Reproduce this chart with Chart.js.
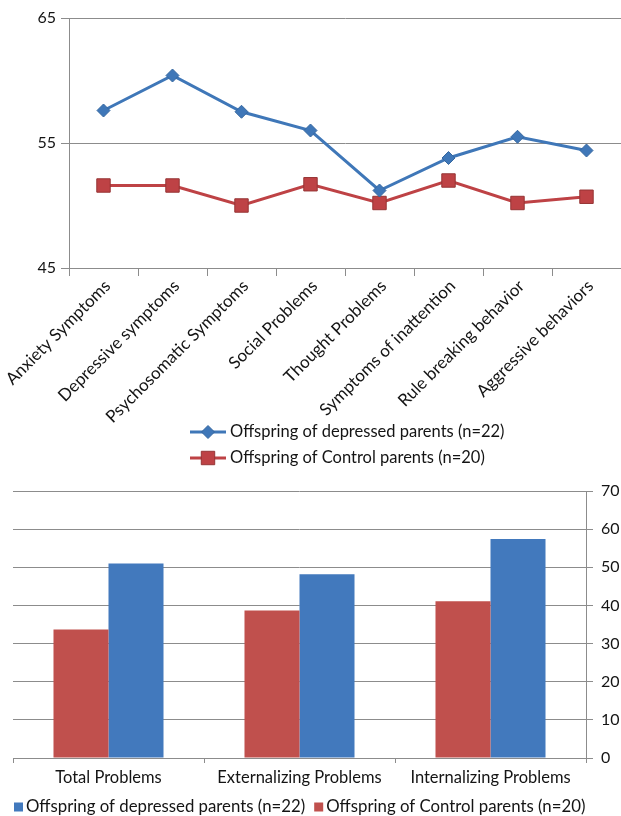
<!DOCTYPE html>
<html>
<head>
<meta charset="utf-8">
<script src="https://cdn.jsdelivr.net/npm/chart.js@4.4.1/dist/chart.umd.min.js"></script>
<style>
  html, body { margin: 0; padding: 0; background: #fff; }
  .panel { position: absolute; left: 0; width: 621px; }
  #topPanel { top: 0; height: 480px; }
  #bottomPanel { top: 480px; height: 336px; }
</style>
</head>
<body>
<div class="panel" id="topPanel"><canvas id="scaleChart"></canvas></div>
<div class="panel" id="bottomPanel"><canvas id="totalChart"></canvas></div>
<script>
// CBCL syndrome scales (T scores)
const scaleLabels = ['Anxiety Symptoms', 'Depressive symptoms', 'Psychosomatic Symptoms', 'Social Problems',
    'Thought Problems', 'Symptoms of inattention', 'Rule breaking behavior', 'Aggressive behaviors'];
const depressedScores = [57.6, 60.4, 57.5, 56.0, 51.2, 53.8, 55.5, 54.4];
const controlScores = [51.6, 51.6, 50.0, 51.7, 50.2, 52.0, 50.2, 50.7];
const scaleTicks = [45, 55, 65];

// broad-band problem scores
const problemLabels = ['Total Problems', 'Externalizing Problems', 'Internalizing Problems'];
const depressedTotals = [51.0, 48.2, 57.4];
const controlTotals = [33.7, 38.7, 41.1];
const totalTicks = [0, 10, 20, 30, 40, 50, 60, 70];

const seriesNames = ['Offspring of depressed parents (n=22)', 'Offspring of Control parents (n=20)'];

const BLUE = '#3f77b8';
const RED = '#be4245';
const GRID = '#8c8c8c';
const TEXT = '#141414';
const FONT = 'Lato, "Open Sans", sans-serif';

// legend drawn as stacked rows: line sample with its marker, then the label
const lineKey = {
    id: 'lineKey',
    afterDraw(chart, args, opts) {
        const ctx = chart.ctx;
        ctx.save();
        ctx.font = opts.font;
        ctx.textBaseline = 'middle';
        chart.data.datasets.forEach((ds, i) => {
            const y = opts.top + i * opts.rowGap;
            ctx.strokeStyle = ds.borderColor;
            ctx.lineWidth = ds.borderWidth;
            ctx.beginPath();
            ctx.moveTo(opts.left, y);
            ctx.lineTo(opts.left + opts.lineLength, y);
            ctx.stroke();

            ctx.fillStyle = ds.pointBackgroundColor;
            ctx.strokeStyle = ds.pointBorderColor;
            ctx.lineWidth = ds.pointBorderWidth;
            Chart.helpers.drawPoint(ctx, {
                pointStyle: ds.pointStyle,
                radius: ds.pointRadius,
                borderWidth: ds.pointBorderWidth,
                rotation: 0
            }, opts.left + opts.lineLength / 2, y);

            ctx.fillStyle = opts.color;
            ctx.fillText(ds.label, opts.left + opts.lineLength + opts.gap, y);
        });
        ctx.restore();
    }
};

// legend drawn on one row with small colour squares
const boxKey = {
    id: 'boxKey',
    afterDraw(chart, args, opts) {
        const ctx = chart.ctx;
        ctx.save();
        ctx.font = opts.font;
        ctx.textBaseline = 'middle';
        let x = opts.left;
        opts.order.forEach(i => {
            const ds = chart.data.datasets[i];
            ctx.fillStyle = ds.backgroundColor;
            ctx.fillRect(x, opts.y - opts.box / 2, opts.box, opts.box);
            x += opts.box + opts.gap;
            ctx.fillStyle = opts.color;
            ctx.fillText(ds.label, x, opts.y);
            x += ctx.measureText(ds.label).width + opts.spacing;
        });
        ctx.restore();
    }
};

// keep the plot area flush with the fixed axis sizes
const noPad = scale => {
    scale.paddingLeft = 0;
    scale.paddingRight = 0;
    scale.paddingTop = 0;
    scale.paddingBottom = 0;
};

new Chart(document.getElementById('scaleChart'), {
    type: 'line',
    data: {
        labels: scaleLabels,
        datasets: [{
            label: seriesNames[0],
            data: depressedScores,
            borderColor: BLUE,
            borderWidth: 3,
            pointStyle: 'rectRot',
            pointRadius: 6.5,
            pointBackgroundColor: BLUE,
            pointBorderColor: '#35679f',
            pointBorderWidth: 1
        }, {
            label: seriesNames[1],
            data: controlScores,
            borderColor: RED,
            borderWidth: 3,
            pointStyle: 'rect',
            pointRadius: 9.5,
            pointBackgroundColor: RED,
            pointBorderColor: '#963535',
            pointBorderWidth: 1
        }]
    },
    options: {
        responsive: true,
        maintainAspectRatio: false,
        animation: false,
        layout: { autoPadding: false, padding: { top: 18, right: 0, left: 0, bottom: 0 } },
        plugins: {
            legend: { display: false },
            tooltip: { enabled: false },
            lineKey: {
                font: '16.5px ' + FONT,
                color: TEXT,
                left: 190,
                top: 432,
                rowGap: 26,
                lineLength: 36,
                gap: 4
            }
        },
        scales: {
            x: {
                offset: true,
                grid: { offset: true, drawOnChartArea: false, tickLength: 8, color: GRID },
                border: { color: GRID },
                ticks: { minRotation: 45, maxRotation: 45, padding: 0, labelOffset: 4, color: TEXT, font: { family: FONT, size: 17 } },
                afterFit: scale => { scale.height = 212; noPad(scale); }
            },
            y: {
                min: scaleTicks[0],
                max: scaleTicks[scaleTicks.length - 1],
                afterBuildTicks: scale => { scale.ticks = scaleTicks.map(v => ({ value: v })); },
                grid: { tickLength: 8, color: GRID },
                border: { color: GRID },
                ticks: { padding: 5, color: TEXT, font: { family: FONT, size: 16 } },
                afterFit: scale => { scale.width = 69; noPad(scale); }
            }
        }
    },
    plugins: [lineKey]
});

new Chart(document.getElementById('totalChart'), {
    type: 'bar',
    data: {
        labels: problemLabels,
        datasets: [{
            label: seriesNames[1],
            data: controlTotals,
            backgroundColor: '#c0504d'
        }, {
            label: seriesNames[0],
            data: depressedTotals,
            backgroundColor: '#4279bd'
        }]
    },
    options: {
        responsive: true,
        maintainAspectRatio: false,
        animation: false,
        layout: { autoPadding: false, padding: { top: 11, left: 13, right: 0, bottom: 0 } },
        datasets: { bar: { barPercentage: 1, categoryPercentage: 0.576 } },
        plugins: {
            legend: { display: false },
            tooltip: { enabled: false },
            boxKey: {
                font: '16.8px ' + FONT,
                color: TEXT,
                left: 14,
                y: 327,
                box: 9,
                gap: 3,
                spacing: 9,
                order: [1, 0]
            }
        },
        scales: {
            x: {
                grid: { offset: true, drawOnChartArea: false, tickLength: 5, color: GRID },
                border: { color: GRID },
                ticks: { padding: 5, color: TEXT, font: { family: FONT, size: 16.5 } },
                afterFit: scale => { scale.height = 58; noPad(scale); }
            },
            y: {
                position: 'right',
                min: totalTicks[0],
                max: totalTicks[totalTicks.length - 1],
                afterBuildTicks: scale => { scale.ticks = totalTicks.map(v => ({ value: v })); },
                grid: { tickLength: 7, color: GRID },
                border: { color: GRID },
                ticks: { padding: 8, color: TEXT, font: { family: FONT, size: 16 } },
                afterFit: scale => { scale.width = 35; noPad(scale); }
            }
        }
    },
    plugins: [boxKey]
});
</script>
</body>
</html>
